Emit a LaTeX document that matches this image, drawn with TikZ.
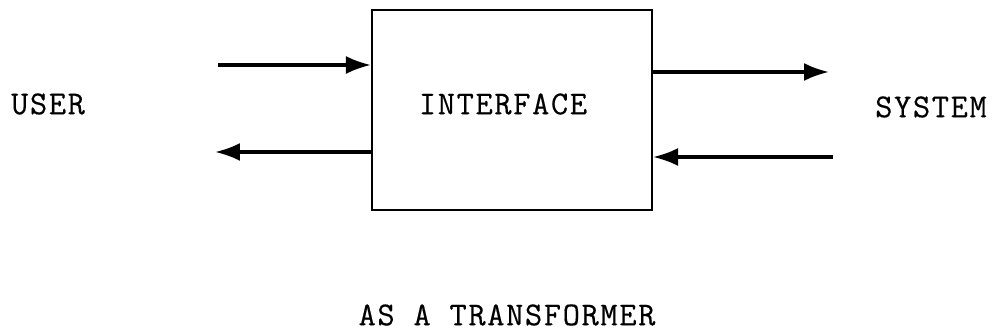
\documentclass[tikz,border=0pt]{standalone}
\usepackage{fontspec}
\usetikzlibrary{arrows.meta}
\newfontfamily\typewriter{Latin Modern Mono}[LetterSpace=5, FakeBold=0.4]

\begin{document}
\begin{tikzpicture}[x=0.02cm, y=-0.02cm,
		flow/.style={line width=1.8pt, -{Latex[length=5mm,width=3.6mm]}},
		word/.style={font=\fontsize{19}{22}\typewriter, inner sep=0pt}]
	\useasboundingbox (0,0) rectangle (998,333);
	\node (iface) [draw, line width=1.2pt, minimum width=5.6cm, minimum height=4cm, inner sep=0pt] at (512,110) {};
	\node (ifacetext) [word] at (503,104) {INTERFACE};
	\node (user) [word] at (48,104) {USER};
	\node (system) [word] at (931,107) {SYSTEM};
	\node (caption) [word] at (507,315) {AS A TRANSFORMER};
	% free ends
	\coordinate (uin) at (218,65);
	\coordinate (uout) at (215,152);
	\coordinate (sout) at (829,72);
	\coordinate (sin) at (833,157);
	\path[flow]
	(uin) edge (uin -| iface.west)
	(uout -| iface.west) edge (uout)
	(sout -| iface.east) edge (sout)
	(sin) edge (sin -| iface.east);
\end{tikzpicture}
\end{document}
